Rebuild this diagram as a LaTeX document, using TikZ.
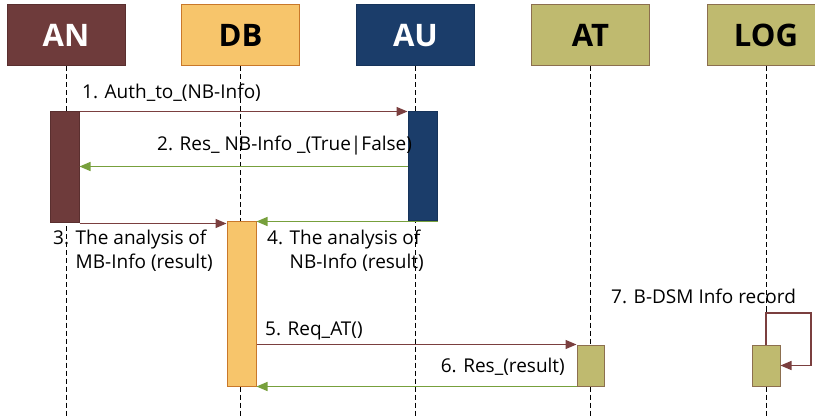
\documentclass[tikz,border=0pt]{standalone}
\usepackage{fontspec}
\setmainfont{Open Sans}
\usetikzlibrary{arrows.meta,calc}
\definecolor{anC}{HTML}{6E3B3B}
\definecolor{anB}{HTML}{5A2F2F}
\definecolor{dbC}{HTML}{F7C56B}
\definecolor{dbB}{HTML}{C9782A}
\definecolor{auC}{HTML}{1B3D6A}
\definecolor{auB}{HTML}{16335A}
\definecolor{atC}{HTML}{BFBA6F}
\definecolor{atB}{HTML}{8C6F4F}
\definecolor{marC}{HTML}{7B3F3F}
\definecolor{grnC}{HTML}{77A03C}
\tikzset{
  hdr/.style={draw, line width=1pt, minimum width=118pt, minimum height=61pt, inner sep=0pt,
    font=\fontsize{31}{31}\selectfont\bfseries},
  actbox/.style={draw, line width=1pt, minimum width=29pt, inner sep=0pt},
  life/.style={dash pattern=on 5pt off 3pt, line width=1pt, black},
  msgm/.style={draw=marC, line width=1.4pt, -{Triangle[length=11pt,width=9pt]}},
  msgg/.style={draw=grnC, line width=1.4pt, -{Triangle[length=11pt,width=9pt]}},
  lbl/.style={inner sep=0pt, anchor=west, align=left, font=\fontsize{19}{24}\selectfont}
}
\begin{document}
\begin{tikzpicture}[x=1pt,y=-1pt]
\useasboundingbox (0,0) rectangle (815,417);
% headers
\node[hdr, fill=anC, draw=anB, text=white] (AN) at (66,35.5) {AN};
\node[hdr, fill=dbC, draw=dbB, text=black] (DB) at (240.5,35.5) {DB};
\node[hdr, fill=auC, draw=auB, text=white] (AU) at (415.5,35.5) {AU};
\node[hdr, fill=atC, draw=atB, text=black] (AT) at (590.5,35.5) {AT};
\node[hdr, fill=atC, draw=atB, text=black] (LOG) at (766,35.5) {LOG};
% lifeline ends
\coordinate (ANe) at (66,417);
\coordinate (DBe) at (241,417);
\coordinate (AUe) at (415,417);
\coordinate (ATe) at (591,417);
\coordinate (LOGe) at (766,417);
\draw[life] (AN.south) -- (AN.south |- ANe);
\draw[life] (DB.south) -- (DB.south |- DBe);
\draw[life] (AU.south) -- (AU.south |- AUe);
\draw[life] (AT.south) -- (AT.south |- ATe);
\draw[life] (LOG.south) -- (LOG.south |- LOGe);
% activation boxes
\node[actbox, fill=anC, draw=anB, minimum height=111pt] (anA) at (64.5,167.5) {};
\node[actbox, fill=auC, draw=auB, minimum height=109pt] (auA) at (422.5,166.5) {};
\node[actbox, fill=dbC, draw=dbB, minimum height=164pt] (dbA) at (241.5,304) {};
\node[actbox, fill=atC, draw=atB, minimum width=27pt, minimum height=41pt] (atA) at (590.5,365.5) {};
\node[actbox, fill=atC, draw=atB, minimum width=28pt, minimum height=41pt] (logA) at (766,365.5) {};
% messages
\draw[msgm] (anA.north east) -- (auA.north west);
\draw[msgg] (auA.west) -- (auA.west -| anA.east);
\draw[msgm] (anA.south east) -- (anA.south east -| dbA.west);
\draw[msgg] (auA.south east) -- (auA.south east -| dbA.north east);
\draw[msgm] (atA.north west -| dbA.east) -- (atA.north west);
\draw[msgg] (atA.south west) -- (atA.south west -| dbA.east);
\coordinate (loopTR) at (811,313);
\draw[msgm] (logA.north) |- (loopTR) |- (logA.east);
% labels
\node[lbl] (l1) at (82,93) {1. Auth\_to\_(NB-Info)};
\node[lbl] (l2) at (157,146) {2. Res\_ NB-Info \_(True|False)};
\node[lbl, anchor=north west] (l3) at (53,230) {3. The analysis of\\\phantom{3. }MB-Info (result)};
\node[lbl, anchor=north west] (l4) at (267,230) {4. The analysis of\\\phantom{4. }NB-Info (result)};
\node[lbl] (l5) at (265,331) {5. Req\_AT()};
\node[lbl, anchor=east] (l6) at (565,367) {6. Res\_(result)};
\node[lbl] (l7) at (611,296) {7. B-DSM Info record};
\end{tikzpicture}
\end{document}
